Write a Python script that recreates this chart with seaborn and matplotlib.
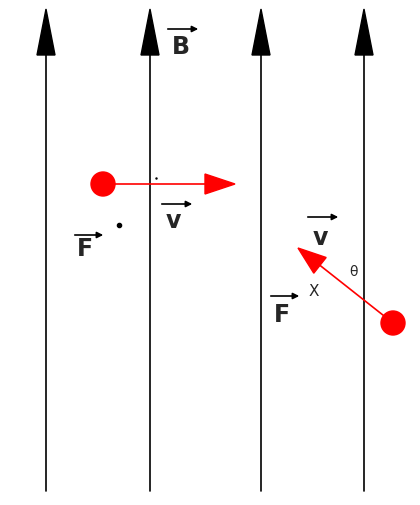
import matplotlib.pyplot as plt
import matplotlib.patches as mpatches
import numpy as np
import pandas as pd
import seaborn as sns

sns.set_style("white")

# field lines (x positions, bottom, top of shaft)
line_x = [46, 150, 261, 364]
line_bottom = 492
line_top = 50
head_tip = 10

# charges: (dot position, arrow tip)
dot1 = (103, 185)
tip1 = (235, 185)
dot2 = (393, 324)
tip2 = (298, 249)

fig = plt.figure(figsize=(4.2, 5.06), dpi=100)
ax = fig.add_axes([0, 0, 1, 1])
ax.set_xlim(0, 420)
ax.set_ylim(506, 0)
ax.axis("off")

df = pd.DataFrame({"x": np.repeat(line_x, 2),
                   "y": [line_bottom, line_top] * len(line_x),
                   "k": np.repeat(range(len(line_x)), 2)})
sns.lineplot(data=df, x="x", y="y", units="k", estimator=None, color="black",
             lw=1.2, ax=ax, legend=False, sort=False)
for x in line_x:
    ax.add_patch(mpatches.Polygon([[x - 9, 56], [x + 9, 56], [x, head_tip]],
                                  color="black"))

def vec_label(x, y, text, ax_y, x0, x1):
    ax.text(x, y, text, fontsize=17, fontweight="bold", ha="center", va="center")
    ax.annotate("", xy=(x1, ax_y), xytext=(x0, ax_y),
                arrowprops=dict(arrowstyle="-|>", color="black", lw=1.2,
                                mutation_scale=9))

vec_label(181, 47, "B", 30, 165, 201)
vec_label(173, 221, "v", 205, 159, 195)
vec_label(85, 249, "F", 236, 72, 106)
vec_label(320, 238, "v", 218, 305, 341)
vec_label(282, 315, "F", 297, 268, 302)

# charge 1
ax.plot([dot1[0], tip1[0] - 28], [dot1[1], tip1[1]], color="red", lw=1.2)
ax.add_patch(mpatches.Polygon([[tip1[0] - 30, 175], [tip1[0] - 30, 195], [tip1[0], 185]],
                              color="red"))
ax.add_patch(mpatches.Circle(dot1, 12, color="red"))
ax.add_patch(mpatches.Rectangle((150, 172), 12, 13, fill=False, lw=0.8))
ax.plot([156], [179], "k.", ms=1.5)

# charge 2
d = np.array(dot2) - np.array(tip2)
u = d / np.hypot(*d)
n = np.array([-u[1], u[0]])
base = np.array(tip2) + u * 28
ax.plot([dot2[0], base[0]], [dot2[1], base[1]], color="red", lw=1.2)
ax.add_patch(mpatches.Polygon([base + n * 10, base - n * 10, tip2], color="red"))
ax.add_patch(mpatches.Circle(dot2, 12, color="red"))
ax.add_patch(mpatches.Arc((364, 290), 26, 26, theta1=-90, theta2=-40, lw=0.8))
ax.text(354, 272, "θ", fontsize=10, ha="center", va="center")

# out of / into page symbols
ax.add_patch(mpatches.Circle((119, 226), 10, fill=False, lw=1))
ax.plot([119], [226], "ko", ms=3)
ax.add_patch(mpatches.Circle((314, 290), 10, fill=False, lw=1))
ax.text(314, 291, "X", fontsize=11, ha="center", va="center")

fig.savefig("out.png", dpi=100)
